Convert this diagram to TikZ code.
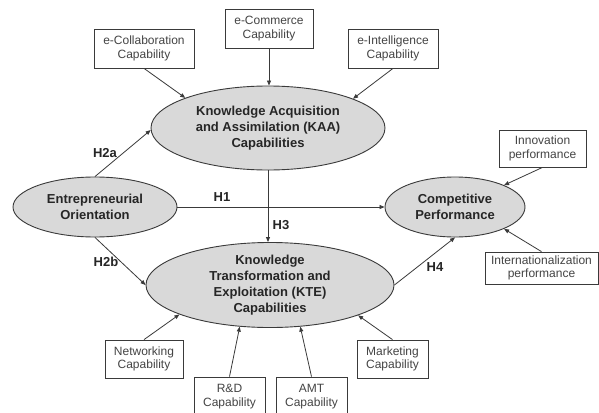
\documentclass[tikz,border=0pt]{standalone}
\usepackage{fontspec}
\setmainfont{Liberation Sans}
\usetikzlibrary{shapes.geometric,arrows.meta}
\definecolor{ellfill}{HTML}{D9D9D9}
\definecolor{linec}{HTML}{3A3A3A}
\definecolor{boxtext}{HTML}{444444}
\begin{document}
\begin{tikzpicture}[x=1pt,y=-1pt,
  construct/.style={ellipse,draw=linec,line width=0.9pt,fill=ellfill,inner sep=0pt,align=center,
    font=\fontsize{13}{16}\selectfont\bfseries,text=black!85},
  capbox/.style={rectangle,draw=linec,line width=0.8pt,fill=white,inner sep=0pt,align=center,
    font=\fontsize{12}{13.4}\selectfont,text=boxtext},
  link/.style={draw=linec,line width=0.8pt,-{Triangle[length=5pt,width=4pt]}},
  hyp/.style={font=\fontsize{13}{15}\selectfont\bfseries,text=black!85,inner sep=0pt}]
\useasboundingbox (0,0) rectangle (599,412);
\fill[white] (0,0) rectangle (599,412);
% constructs
\node[construct,minimum width=234,minimum height=84] (kaa) at (268,128) {Knowledge Acquisition\\and Assimilation (KAA)\\Capabilities};
\node[construct,minimum width=164,minimum height=60] (eo) at (95,207) {Entrepreneurial\\Orientation};
\node[construct,minimum width=140,minimum height=60] (cp) at (455,207) {Competitive\\Performance};
\node[construct,minimum width=248,minimum height=84] (kte) at (270,285) {Knowledge\\Transformation and\\Exploitation (KTE)\\Capabilities};
% boxes
\node[capbox,minimum width=100,minimum height=39] (ecol) at (144,48.5) {e-Collaboration\\Capability};
\node[capbox,minimum width=88,minimum height=39] (ecom) at (269,28.5) {e-Commerce\\Capability};
\node[capbox,minimum width=90,minimum height=39] (eint) at (393,48.5) {e-Intelligence\\Capability};
\node[capbox,minimum width=87,minimum height=37] (inno) at (542.5,148.5) {Innovation\\performance};
\node[capbox,minimum width=113,minimum height=32] (intl) at (541.5,268) {Internationalization\\performance};
\node[capbox,minimum width=78,minimum height=38] (netw) at (144,359) {Networking\\Capability};
\node[capbox,minimum width=71,minimum height=39] (rd) at (229.5,396.5) {R\&D\\Capability};
\node[capbox,minimum width=71,minimum height=39] (amt) at (311.5,396.5) {AMT\\Capability};
\node[capbox,minimum width=71,minimum height=38] (mkt) at (392.5,359) {Marketing\\Capability};
% connectors
\draw[link] (ecol.south) -- (kaa.160);
\draw[link] (ecom.south) -- (ecom.south |- kaa.north);
\draw[link] (eint.south) -- (kaa.19);
\draw[link] (eo.north) -- (kaa.181);
\draw[link] (eo.east) -- (cp.west);
\draw[link] (kaa.south) -- (kaa.south |- kte.north);
\draw[link] (eo.south) -- (kte.west);
\draw[link] (netw.north) -- (kte.198);
\draw[link] (rd.north) -- (kte.234);
\draw[link] (amt.north) -- (kte.306);
\draw[link] (mkt.north) -- (kte.341);
\draw[link] (kte.east) -- (cp.south);
\draw[link] (inno.south) -- (cp.24);
\draw[link] (intl.north) -- (cp.336);
% hypothesis labels
\node[hyp] (h2a) at (105,153) {H2a};
\node[hyp] (h1) at (222,197) {H1};
\node[hyp] (h3) at (281,225) {H3};
\node[hyp] (h2b) at (106,262) {H2b};
\node[hyp] (h4) at (435,267) {H4};
\end{tikzpicture}
\end{document}
